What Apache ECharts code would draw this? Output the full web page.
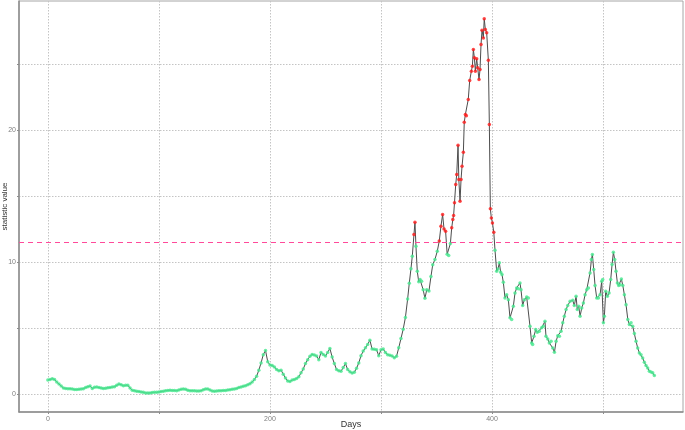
<!DOCTYPE html>
<html>
<head>
<meta charset="utf-8">
<script src="https://cdn.jsdelivr.net/npm/echarts@6/dist/echarts.min.js"></script>
<style>
  html, body { margin: 0; padding: 0; background: #fff; }
  #main { width: 685px; height: 430px; }
</style>
</head>
<body>
<div id="main"></div>
<script>
// day of each observation
const days = [
  0, 2, 4, 6, 8, 10, 12, 14, 16, 18, 20, 22, 24, 26, 28, 30, 32, 34, 36, 38,
  40, 42, 44, 46, 48, 50, 52, 54, 56, 58, 60, 62, 64, 66, 68, 70, 72, 74, 76, 78,
  80, 82, 84, 86, 88, 90, 92, 94, 96, 98, 100, 102, 104, 106, 108, 110, 112, 114, 116, 118,
  120, 122, 124, 126, 128, 130, 132, 134, 136, 138, 140, 142, 144, 146, 148, 150, 152, 154, 156, 158,
  160, 162, 164, 166, 168, 170, 172, 174, 176, 178, 180, 182, 184, 186, 188, 190, 192, 194, 196, 198,
  200, 202, 204, 206, 208, 210, 212, 214, 216, 218, 220, 222, 224, 226, 228, 230, 232, 234, 236, 238,
  240, 242, 244, 246, 248, 250, 252, 254, 256, 258, 260, 262, 264, 266, 268, 270, 272, 274, 276, 278,
  280, 282, 284, 286, 288, 290, 292, 294, 296, 298, 300, 302, 304, 306, 308, 310, 312, 314, 316, 318,
  320, 322, 324, 325.5, 327, 328.2, 329.7, 330.6, 331.5, 332.7, 334, 335.2, 336.6, 338, 339.6, 341.2, 343.2, 345, 346.6, 348.6,
  350.7, 352.5, 354, 355.5, 356.8, 358.2, 359.6, 361, 362.5, 363.7, 364.7, 365.4, 366.2, 367.3, 368.2, 369.4, 370.1, 371.2, 372.1, 373,
  374.2, 375, 376, 376.9, 378.6, 379.9, 381.4, 382.3, 383.2, 384.1, 385, 386.2, 387.1, 388.3, 389.2, 390.1, 391, 392.2, 393, 394,
  395.2, 396.7, 397.6, 398.5, 399.4, 400.4, 401.6, 402.7, 404.2, 405.4, 406.6, 407.8, 409, 410.2, 411.7, 413.2, 414.7, 416.2, 417.7, 419.2,
  420.7, 422.2, 423.7, 425.2, 426.1, 427.6, 429.1, 431.2, 432.7, 434.2, 435.7, 436.6, 437.8, 439.3, 440.8, 442.6, 444.7, 446.2, 447.7, 448.6,
  450.2, 451.6, 453.2, 454.7, 456.2, 457.7, 459.2, 460.7, 462.2, 463.7, 465.1, 466.7, 468.2, 470.3, 472.7, 474.1, 475.7, 476.8, 478.1, 479.3,
  480.8, 482.3, 483.8, 485.3, 486.8, 488.3, 489.5, 490.4, 491.6, 492.8, 494.3, 495.8, 497.3, 498.8, 499.7, 500.3, 501.2, 502.4, 503.9, 505.4,
  506.9, 508.1, 509.3, 510.5, 511.7, 512.9, 514.1, 515.3, 516.5, 517.8, 519.2, 520.7, 522.3, 523.7, 525.2, 526.7, 528.2, 529.7, 531.2, 532.7,
  534.2, 535.7, 537.2, 538.7, 540.2, 541.7, 543.2, 544.7, 546.2
];
// statistic value for each day
const values = [
  1.05, 1.1, 1.15, 1.1, 0.9, 0.75, 0.6, 0.45, 0.42, 0.4, 0.4, 0.38, 0.33, 0.33, 0.35, 0.38, 0.4, 0.48, 0.55, 0.6,
  0.42, 0.5, 0.52, 0.48, 0.45, 0.42, 0.44, 0.47, 0.48, 0.52, 0.55, 0.65, 0.75, 0.7, 0.62, 0.65, 0.66, 0.45, 0.28, 0.25,
  0.2, 0.18, 0.15, 0.12, 0.08, 0.07, 0.08, 0.1, 0.12, 0.12, 0.15, 0.18, 0.2, 0.25, 0.27, 0.28, 0.27, 0.26, 0.25, 0.3,
  0.35, 0.38, 0.35, 0.28, 0.25, 0.25, 0.24, 0.22, 0.22, 0.25, 0.32, 0.37, 0.38, 0.3, 0.22, 0.2, 0.22, 0.24, 0.25, 0.26,
  0.27, 0.3, 0.32, 0.36, 0.38, 0.42, 0.48, 0.53, 0.58, 0.63, 0.7, 0.78, 0.9, 1.1, 1.34, 1.8, 2.35, 2.98, 3.3, 2.45,
  2.2, 2.15, 2.05, 1.85, 1.75, 1.8, 1.5, 1.2, 0.98, 0.95, 1.05, 1.1, 1.18, 1.3, 1.6, 1.9, 2.3, 2.6, 2.85, 3.0,
  2.95, 2.88, 2.6, 3.15, 3.0, 2.88, 3.15, 3.45, 2.8, 2.3, 1.85, 1.75, 1.72, 2.0, 2.3, 1.85, 1.68, 1.58, 1.65, 1.95,
  2.35, 2.9, 3.25, 3.5, 3.75, 4.08, 3.4, 3.38, 3.35, 2.9, 3.35, 3.4, 3.15, 2.98, 2.93, 2.88, 2.75, 2.85, 3.5, 4.2,
  4.9, 5.8, 7.2, 8.4, 9.5, 10.44, 12.09, 13.02, 11.2, 9.3, 8.5, 8.67, 8.55, 7.9, 7.25, 7.9, 7.8, 8.9, 9.8, 10.2,
  10.82, 11.6, 12.72, 13.6, 12.5, 12.34, 10.6, 10.5, 11.4, 12.6, 13.22, 13.53, 14.49, 15.88, 16.64, 18.86, 16.26, 14.61, 16.26, 17.27,
  18.33, 20.6, 21.19, 21.1, 22.33, 23.77, 24.48, 24.86, 26.12, 25.49, 24.48, 25.42, 24.73, 23.85, 24.6, 26.5, 27.59, 27.0, 28.45, 27.64,
  27.4, 25.3, 20.43, 14.04, 13.35, 12.97, 12.26, 10.9, 9.3, 9.48, 9.94, 9.23, 9.05, 8.47, 7.28, 7.53, 7.15, 5.77, 5.64, 6.65,
  7.66, 8.04, 7.97, 8.42, 7.91, 6.7, 7.15, 7.36, 7.28, 5.13, 3.87, 3.74, 4.37, 4.88, 4.67, 4.75, 5.01, 5.13, 5.51, 4.37,
  4.17, 3.87, 3.99, 3.49, 3.16, 3.99, 4.42, 4.37, 4.75, 5.39, 5.89, 6.4, 6.7, 7.03, 7.1, 6.7, 7.4, 6.4, 6.65, 5.89,
  6.52, 6.9, 7.53, 7.91, 8.04, 9.18, 10.19, 10.57, 9.43, 8.22, 7.28, 7.28, 7.53, 8.54, 8.67, 5.39, 5.89, 7.78, 7.4, 7.66,
  8.67, 9.81, 10.74, 10.19, 9.3, 8.42, 8.22, 8.29, 8.72, 8.22, 7.53, 6.77, 5.64, 5.26, 5.39, 5.13, 4.58, 3.99, 3.49, 3.11,
  2.98, 2.73, 2.4, 2.15, 1.97, 1.72, 1.67, 1.6, 1.39
];
const threshold = 11.53;
const xLabelTicks = [0, 200, 400];
const xGridTicks = [0, 100, 200, 300, 400, 500];
const yLabelTicks = [0, 10, 20];
const yGridTicks = [0, 5, 10, 15, 20, 25];

const points = days.map((d, i) => [d, values[i]]);
const below = points.filter(p => p[1] < threshold);
const above = points.filter(p => p[1] >= threshold);

const font = 'Liberation Sans, Arial, sans-serif';
const gridLine = { show: true, lineStyle: { color: '#c4c4c4', type: [1.5, 1.5], width: 1 } };
const dashStyle = { color: '#ff4a9a', type: [5, 4], width: 1.2 };

let myChart = echarts.init(document.getElementById('main'));
let option = {
    backgroundColor: '#fff',
    animation: false,
    grid: {
        left: 19, right: 2, top: 1, bottom: 18,
        outerBoundsMode: 'none',
        containLabel: false,
        show: true, borderColor: '#a6a6a6', borderWidth: 1
    },
    xAxis: {
        type: 'value',
        min: -26, max: 572,
        name: 'Days',
        nameLocation: 'middle',
        nameGap: 8,
        nameMoveOverlap: false,
        nameTextStyle: { fontFamily: font, fontSize: 9, color: '#333' },
        axisLine: { show: true, onZero: false, lineStyle: { color: '#8c8c8c', width: 1.5 } },
        axisTick: { show: true, length: 2, customValues: xGridTicks, lineStyle: { color: '#8c8c8c' } },
        axisLabel: { customValues: xLabelTicks, fontFamily: font, fontSize: 7, color: '#7f7f7f', margin: 4 },
        splitLine: gridLine
    },
    yAxis: {
        type: 'value',
        min: -1.37, max: 29.8,
        name: 'statistic value',
        nameLocation: 'middle',
        nameGap: 10,
        nameMoveOverlap: false,
        nameTextStyle: { fontFamily: font, fontSize: 8, color: '#333' },
        axisLine: { show: true, onZero: false, lineStyle: { color: '#8c8c8c', width: 1.5 } },
        axisTick: { show: true, length: 2, customValues: yGridTicks, lineStyle: { color: '#8c8c8c' } },
        axisLabel: { customValues: yLabelTicks, fontFamily: font, fontSize: 7, color: '#7f7f7f', margin: 3 },
        splitLine: gridLine
    },
    series: [
        {
            name: 'line',
            type: 'line',
            data: points,
            showSymbol: false,
            z: 2,
            lineStyle: { color: '#4d4d4d', width: 1 },
            markLine: {
                silent: true,
                symbol: 'none',
                label: { show: false },
                emphasis: { disabled: true },
                lineStyle: dashStyle,
                data: [{ yAxis: threshold, lineStyle: dashStyle }]
            }
        },
        {
            name: 'below',
            type: 'scatter',
            data: below,
            symbol: 'circle',
            symbolSize: 3.5,
            z: 3,
            itemStyle: { color: '#46e88e' }
        },
        {
            name: 'above',
            type: 'scatter',
            data: above,
            symbol: 'circle',
            symbolSize: 3.5,
            z: 4,
            itemStyle: { color: '#ff1a1a' }
        }
    ]
};
myChart.setOption(option);
</script>
</body>
</html>
